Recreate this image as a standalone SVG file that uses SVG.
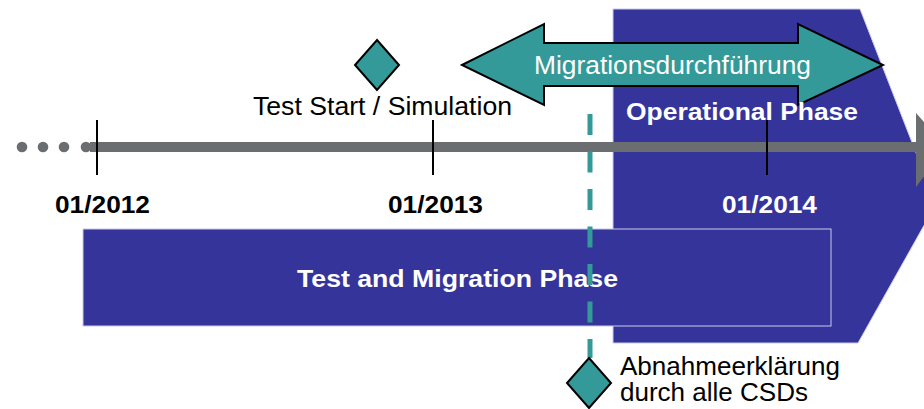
<svg xmlns="http://www.w3.org/2000/svg" width="924" height="409" viewBox="0 0 924 409">
  <style>
    .phase { fill: #35349A; stroke: #C9C9EC; stroke-width: 1; }
    .teal { fill: #339999; stroke: #000; stroke-width: 2; stroke-linejoin: miter; }
    .tick { stroke: #000; stroke-width: 2; }
    .t { font-family: "Liberation Sans", Arial, sans-serif; }
    .reg { font-size: 25px; fill: #000; }
    .bold { font-size: 24px; font-weight: bold; }
    .white { fill: #fff; }
    .black { fill: #000; }
  </style>
  <rect width="924" height="409" fill="#fff"/>

  <g id="operational-phase">
    <polygon class="phase" points="613,9 860,9 936,204 858,343 613,343"/>
  </g>

  <g id="connectors">
    <g id="timeline">
      <circle cx="22" cy="147" r="5.3" fill="#6B6E70"/>
      <circle cx="43" cy="147" r="5.3" fill="#6B6E70"/>
      <circle cx="64" cy="147" r="5.3" fill="#6B6E70"/>
      <circle cx="86" cy="147" r="5.3" fill="#6B6E70"/>
      <rect x="90" y="142" width="828" height="10" fill="#6B6E70"/>
      <polygon points="916,113 946,147 916,187" fill="#6B6E70"/>
      <line class="tick" x1="97" y1="120" x2="97" y2="175"/>
      <line class="tick" x1="433" y1="120" x2="433" y2="175"/>
      <line class="tick" x1="767" y1="120" x2="767" y2="175"/>
    </g>
  </g>

  <g id="migration-arrow">
    <polygon class="teal" points="462,65 544,24 544,43 798,43 798,24 883,65 798,105 798,86 544,86 544,105"/>
    <text class="t white" x="534" y="74" font-size="26" textLength="277" lengthAdjust="spacingAndGlyphs">Migrationsdurchführung</text>
  </g>

  <g id="operational-label">
    <text class="t bold white" x="626" y="120" textLength="232" lengthAdjust="spacingAndGlyphs">Operational Phase</text>
  </g>

  <g id="test-migration-phase">
    <rect class="phase" x="83" y="229" width="748" height="97"/>
    <text class="t bold white" x="297" y="287" font-size="26" textLength="321" lengthAdjust="spacingAndGlyphs">Test and Migration Phase</text>
  </g>

  <g id="dates">
    <text class="t bold black" x="55" y="213" textLength="95" lengthAdjust="spacingAndGlyphs">01/2012</text>
    <text class="t bold black" x="388" y="213" textLength="95" lengthAdjust="spacingAndGlyphs">01/2013</text>
    <text class="t bold white" x="722" y="213" textLength="95" lengthAdjust="spacingAndGlyphs">01/2014</text>
  </g>

  <g id="test-start">
    <polygon class="teal" points="377,40 399,65 377,90 355,65"/>
    <text class="t reg" x="253" y="115" textLength="259" lengthAdjust="spacingAndGlyphs">Test Start / Simulation</text>
  </g>

  <g id="acceptance">
    <line x1="590" y1="114" x2="590" y2="358" stroke="#339999" stroke-width="5" stroke-dasharray="21 16.5"/>
    <polygon class="teal" points="589,358 611,383 589,408 567,383"/>
    <text class="t reg" x="620" y="375" textLength="220" lengthAdjust="spacingAndGlyphs">Abnahmeerklärung</text>
    <text class="t reg" x="620" y="401" textLength="188" lengthAdjust="spacingAndGlyphs">durch alle CSDs</text>
  </g>
</svg>
